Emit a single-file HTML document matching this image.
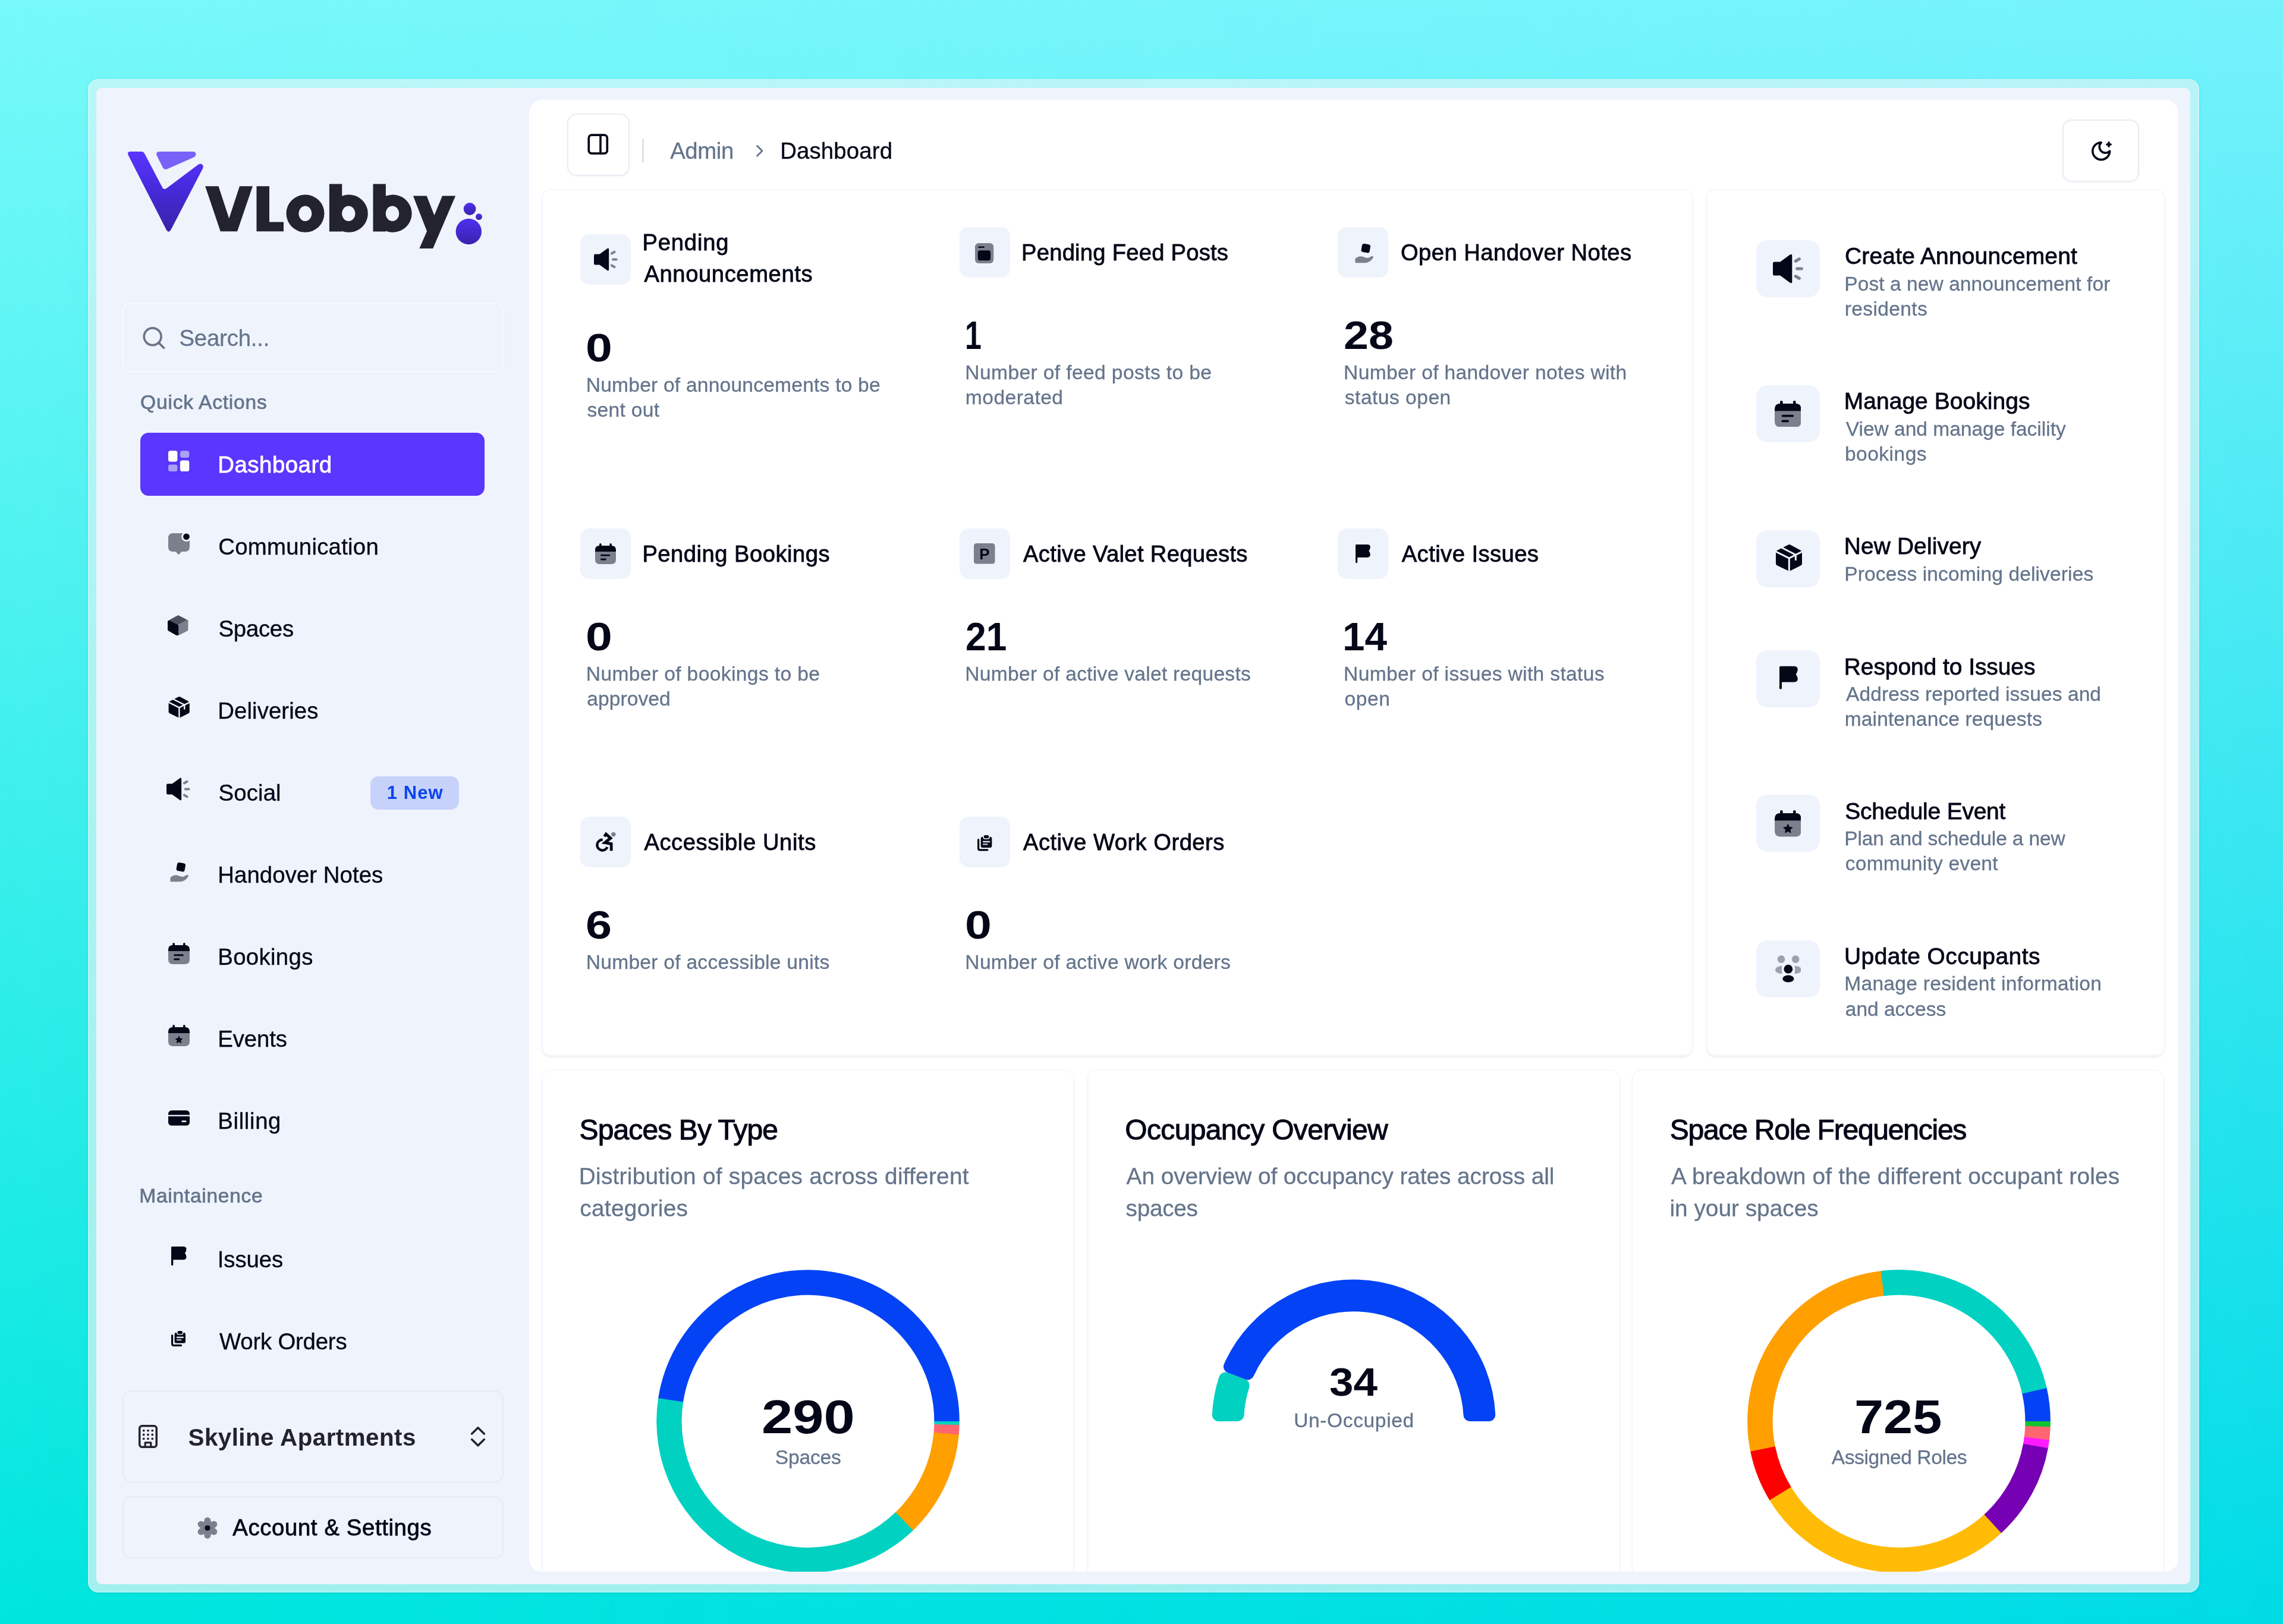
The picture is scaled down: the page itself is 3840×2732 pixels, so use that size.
<!DOCTYPE html>
<html lang="en"><head><meta charset="utf-8"><title>VLobby Dashboard</title><style>html,body{margin:0;padding:0}body{width:3840px;height:2732px;position:relative;overflow:hidden;font-family:"Liberation Sans",sans-serif;background:linear-gradient(to bottom,#78f9fa 0%,#00e6de 100%);}.a{position:absolute;display:block}.t{position:absolute;white-space:nowrap;display:block;font-family:"Liberation Sans",sans-serif;}</style></head><body><div id="root" style="position:absolute;left:0;top:0;width:3840px;height:2732px;will-change:transform;"><div class="a" style="left:0;top:0;width:3840px;height:2732px;background:linear-gradient(to bottom,#75f2fc,#00dbe6);-webkit-mask-image:linear-gradient(to right,rgba(0,0,0,0),#000);mask-image:linear-gradient(to right,rgba(0,0,0,0),#000);"></div><div class="a" style="left:148.00px;top:133.30px;width:3550.70px;height:2545.30px;background:linear-gradient(to bottom,rgba(255,246,247,0.50),rgba(255,247,247,0.63));border-radius:17px;box-shadow:inset 0 0 0 1.5px rgba(255,255,255,0.28),0 1px 4px rgba(0,90,100,0.16);"></div>
<div class="a" style="left:162.00px;top:147.60px;width:3522.40px;height:2517.20px;background:#eff3fc;border-radius:9px;"></div>
<svg class="a" style="left:0.00px;top:0.00px;" width="900.00" height="460.00" viewBox="0 0 900 460"><defs><linearGradient id="lg1" x1="0" y1="0" x2="0" y2="1"><stop offset="0" stop-color="#5a35ff"/><stop offset="0.45" stop-color="#472adc"/><stop offset="1" stop-color="#3a22a8"/></linearGradient><linearGradient id="lg2" x1="0" y1="0" x2="0" y2="1"><stop offset="0" stop-color="#4e30f0"/><stop offset="1" stop-color="#3a22ac"/></linearGradient></defs><path d="M219.4,255 H237.6 Q241.4,255 243.2,258.4 L272.6,314.4 Q275.6,320.2 280.6,316.6 L333.2,277 Q337.6,273.8 340.6,277.2 Q342.8,279.8 341,283.4 L287.6,386.2 Q283.6,393.2 279.6,386.2 L216.2,262 Q212.8,255 219.4,255Z" fill="url(#lg1)"/><path d="M268.6,255 H323.6 Q329.6,255 329.6,259.8 Q329.4,262.8 326.2,264.4 L281.4,284.2 Q276.2,286.4 273.6,281.4 L263.8,261.8 Q261,255.2 268.6,255Z" fill="#7661f9"/><g fill="#22232f"><path d="M345.2,313.3 H367.5 L385.3,367.5 L403,313.3 H425 L399.1,389.2 H370.8Z"/><path d="M431.5,313.3 H453 V373.5 H477 V389.2 H431.5Z"/><path fill-rule="evenodd" d="M481.5,359.2 a32,31.6 0 1 0 64,0 a32,31.6 0 1 0 -64,0Z M502.5,359.3 a10.9,12.8 0 1 1 21.8,0 a10.9,12.8 0 1 1 -21.8,0Z"/><path fill-rule="evenodd" d="M553.9,309.4 H575.3 V329.7 A32,31.6 0 1 1 575.3,388.7 V389.4 H553.9Z M575.2,359.3 a11.1,12.8 0 1 0 22.2,0 a11.1,12.8 0 1 0 -22.2,0Z"/><path fill-rule="evenodd" d="M627.5,309.4 H648.9 V329.8 A32,31.6 0 1 1 648.9,388.6 V389.4 H627.5Z M648.8,359.3 a11.2,12.8 0 1 0 22.4,0 a11.2,12.8 0 1 0 -22.4,0Z"/><path d="M694.9,329.4 H717.7 L730.5,362.3 L744,329.4 H766.2 L728.2,418.1 H705.4 L718.1,389Z"/></g><circle cx="788.3" cy="389.5" r="21.7" fill="url(#lg2)"/><circle cx="790.1" cy="351.5" r="10.4" fill="url(#lg2)"/><circle cx="805.5" cy="364.6" r="5.4" fill="url(#lg2)"/></svg>
<div class="a" style="left:205.30px;top:508.90px;width:642.10px;height:118.60px;border:2.4px solid rgba(255,255,255,0.55);border-radius:14px;box-sizing:border-box;box-shadow:0 1px 3px rgba(30,50,90,0.04);"></div>
<svg class="a" style="left:236.00px;top:545.00px;" width="48.00" height="48.00" viewBox="0 0 48 48"><circle cx="20.7" cy="21.2" r="14.4" fill="none" stroke="#6b7486" stroke-width="3.7"/><path d="M31.2,31.9 L39.6,40.2" stroke="#6b7486" stroke-width="3.7" stroke-linecap="round"/></svg>
<span class="t" style="left:301.45px;top:550.00px;font-size:38.4px;line-height:38.4px;color:#64748b;letter-spacing:-0.219px;-webkit-text-stroke:0.3px #64748b;">Search...</span>
<span class="t" style="left:236.10px;top:660.00px;font-size:33.6px;line-height:33.6px;color:#64748b;letter-spacing:0.763px;-webkit-text-stroke:0.7px #64748b;">Quick Actions</span>
<div class="a" style="left:235.80px;top:727.90px;width:579.20px;height:106.40px;background:#5a36ff;border-radius:14px;"></div>
<svg class="a" style="left:283.00px;top:758.30px;" width="36.00" height="36.00" viewBox="0 0 36 36"><rect x="0" y="0.3" width="15.4" height="18.4" rx="3.6" fill="#fff"/><rect x="19.9" y="0.3" width="15.4" height="11.6" rx="3.6" fill="#a9a0fa"/><rect x="0" y="23.4" width="15.4" height="11.6" rx="3.6" fill="#a9a0fa"/><rect x="19.9" y="16.6" width="15.4" height="18.4" rx="3.6" fill="#fff"/></svg>
<span class="t" style="left:366.30px;top:763.00px;font-size:38.4px;line-height:38.4px;color:#ffffff;letter-spacing:0.500px;-webkit-text-stroke:0.8px #ffffff;">Dashboard</span>
<span class="t" style="left:367.30px;top:901.00px;font-size:38.4px;line-height:38.4px;color:#030717;letter-spacing:0.233px;-webkit-text-stroke:0.35px #030717;">Communication</span>
<span class="t" style="left:367.55px;top:1039.00px;font-size:38.4px;line-height:38.4px;color:#030717;letter-spacing:-0.300px;-webkit-text-stroke:0.35px #030717;">Spaces</span>
<span class="t" style="left:366.30px;top:1177.00px;font-size:38.4px;line-height:38.4px;color:#030717;letter-spacing:0.061px;-webkit-text-stroke:0.35px #030717;">Deliveries</span>
<span class="t" style="left:367.55px;top:1315.00px;font-size:38.4px;line-height:38.4px;color:#030717;letter-spacing:0.100px;-webkit-text-stroke:0.35px #030717;">Social</span>
<span class="t" style="left:366.30px;top:1453.00px;font-size:38.4px;line-height:38.4px;color:#030717;letter-spacing:0.046px;-webkit-text-stroke:0.35px #030717;">Handover Notes</span>
<span class="t" style="left:366.30px;top:1591.00px;font-size:38.4px;line-height:38.4px;color:#030717;letter-spacing:0.307px;-webkit-text-stroke:0.35px #030717;">Bookings</span>
<span class="t" style="left:366.30px;top:1729.00px;font-size:38.4px;line-height:38.4px;color:#030717;letter-spacing:-0.160px;-webkit-text-stroke:0.35px #030717;">Events</span>
<span class="t" style="left:366.30px;top:1867.00px;font-size:38.4px;line-height:38.4px;color:#030717;letter-spacing:0.625px;-webkit-text-stroke:0.35px #030717;">Billing</span>
<svg class="a" style="left:282.60px;top:896.50px;" width="36.00" height="36.50" viewBox="0 0 36 36.5"><path d="M8,0 H28 Q36,0 36,8 V23 Q36,31 28,31 H22.5 L18.7,35.3 Q17.5,36.4 16.3,35.3 L12.5,31 H8 Q0,31 0,23 V8 Q0,0 8,0Z" fill="#7c808d"/><circle cx="30.5" cy="5.8" r="8.3" fill="#eff3fc"/><circle cx="30.5" cy="5.8" r="5.4" fill="#030717"/></svg>
<svg class="a" style="left:282.40px;top:1035.40px;" width="34.60" height="34.40" viewBox="0 0 34.4 34.2"><g stroke-linejoin="round" stroke-width="5"><polygon points="17.7,2.6 31.8,10.2 16.6,17.4 2.5,10.8" fill="#4c4f5d" stroke="#4c4f5d"/><polygon points="31.8,10.9 31.8,23.9 17.6,31.4 17.6,18.4" fill="#7c808d" stroke="#7c808d"/><polygon points="2.5,11.4 15.6,18.2 15.6,31.4 2.5,23.9" fill="#030717" stroke="#030717"/></g></svg>
<svg class="a" style="left:282.60px;top:1172.20px;" width="36.00" height="36.00" viewBox="0 0 36 36"><polygon points="18.6,3 32.8,10.6 32.8,25.4 18.6,32.6 3.6,25.4 3.6,10.6" fill="#030717" stroke="#030717" stroke-width="6" stroke-linejoin="round"/><g stroke="#eff3fc" stroke-width="2.4" fill="none" stroke-linecap="butt"><path d="M0.5,9.4 L18.4,18.4 L36,9.4"/><path d="M18.4,18.4 V36"/><path d="M8.6,4.2 L27.2,13.8 V21.4"/></g></svg>
<svg class="a" style="left:279.70px;top:1308.40px;overflow:visible;" width="40.00" height="39.00" viewBox="0 0 40 39"><path d="M2.2,10.5 H9.6 L22.3,1.2 Q25.2,-0.6 25.2,3 V36 Q25.2,39.6 22.3,37.8 L9.6,28.5 H2.2 Q0,28.5 0,26.3 V12.7 Q0,10.5 2.2,10.5Z" fill="#030717"/><path d="M29.8,9.6 L34.6,6.8 M31.8,19.5 H37.6 M29.8,29.4 L34.6,32.2" stroke="#7c808d" stroke-width="4" stroke-linecap="round" fill="none"/></svg>
<svg class="a" style="left:282.60px;top:1451.00px;" width="36.00" height="36.00" viewBox="0 0 36 36"><rect x="14.2" y="0.6" width="14.2" height="14.2" rx="3.6" transform="rotate(10 21.3 7.7)" fill="#030717"/><path d="M3.5,32.3 V25.2 Q8,20.6 14,21.2 L21.5,23.6 Q24.8,24.6 27.4,23 L30.8,21 Q34.6,19.8 33.6,23.6 Q29,31.6 20,32.3 Z" fill="#7c808d"/></svg>
<svg class="a" style="left:282.50px;top:1586.40px;" width="36.00" height="36.00" viewBox="0 0 36 36"><rect x="7.3" y="0" width="3.7" height="9" rx="1.85" fill="#030717"/><rect x="25" y="0" width="3.7" height="9" rx="1.85" fill="#030717"/><path d="M0,14.4 V11.5 Q0,4 7.5,4 H28.5 Q36,4 36,11.5 V14.4Z" fill="#030717"/><path d="M0,14.4 H36 V28 Q36,36 28,36 H8 Q0,36 0,28Z" fill="#7c808d"/><rect x="9.3" y="19.2" width="16.6" height="3" rx="1.5" fill="#030717"/><rect x="9.3" y="26.3" width="10" height="3" rx="1.5" fill="#030717"/></svg>
<svg class="a" style="left:282.50px;top:1724.30px;" width="36.00" height="36.00" viewBox="0 0 36 36"><rect x="7.3" y="0" width="3.7" height="9" rx="1.85" fill="#030717"/><rect x="25" y="0" width="3.7" height="9" rx="1.85" fill="#030717"/><path d="M0,14.4 V11.5 Q0,4 7.5,4 H28.5 Q36,4 36,11.5 V14.4Z" fill="#030717"/><path d="M0,14.4 H36 V28 Q36,36 28,36 H8 Q0,36 0,28Z" fill="#7c808d"/><polygon points="18.00,19.20 19.70,23.05 23.90,23.48 20.76,26.30 21.64,30.42 18.00,28.30 14.36,30.42 15.24,26.30 12.10,23.48 16.30,23.05" fill="#030717" stroke="#030717" stroke-width="1" stroke-linejoin="round"/></svg>
<svg class="a" style="left:282.60px;top:1867.60px;" width="36.00" height="26.00" viewBox="0 0 36 26"><rect x="0" y="0" width="36" height="25.6" rx="5.6" fill="#030717"/><rect x="0" y="7.6" width="36" height="2.3" fill="#eff3fc"/><rect x="22.5" y="16.9" width="8" height="2.9" rx="1.45" fill="#eff3fc"/></svg>
<div class="a" style="left:623.30px;top:1306.00px;width:148.90px;height:56.10px;background:#c7d2fb;border-radius:14px;"></div>
<span class="t" style="left:650.80px;top:1318.00px;font-size:31px;line-height:31px;color:#0c44ee;font-weight:700;letter-spacing:1.062px;">1 New</span>
<span class="t" style="left:234.25px;top:1995.00px;font-size:33.6px;line-height:33.6px;color:#64748b;letter-spacing:0.705px;-webkit-text-stroke:0.7px #64748b;">Maintainence</span>
<span class="t" style="left:365.80px;top:2100.00px;font-size:38.4px;line-height:38.4px;color:#030717;letter-spacing:-0.100px;-webkit-text-stroke:0.35px #030717;">Issues</span>
<span class="t" style="left:369.05px;top:2238.00px;font-size:38.4px;line-height:38.4px;color:#030717;letter-spacing:-0.230px;-webkit-text-stroke:0.35px #030717;">Work Orders</span>
<svg class="a" style="left:287.80px;top:2096.60px;" width="26.00" height="32.00" viewBox="0 0 26 32"><path d="M0,1.4 Q0,0 1.4,0 H20.8 Q26,0.2 25.4,5.4 Q25,8.6 22.9,11.1 Q25,13.6 25.4,16.8 Q26,22 20.8,22.2 H3.3 V30.4 Q3.3,32 1.65,32 Q0,32 0,30.4Z" fill="#030717"/></svg>
<svg class="a" style="left:287.80px;top:2239.30px;" width="24.00" height="26.00" viewBox="0 0 24 26"><path d="M1.6,7.6 V21.8 Q1.6,24.4 4.2,24.4 H16.6" fill="none" stroke="#030717" stroke-width="3.2" stroke-linecap="round"/><rect x="5.6" y="2.8" width="18.4" height="17.8" rx="3.2" fill="#030717"/><rect x="9.2" y="-1" width="11.2" height="7.6" rx="3" fill="#eff3fc"/><rect x="10.6" y="0" width="8.4" height="5.2" rx="2.2" fill="#030717"/><rect x="9" y="9.6" width="11.8" height="2.4" fill="#dde1ea"/><rect x="9" y="13.9" width="8.2" height="2.4" fill="#b9bfcc"/></svg>
<div class="a" style="left:205.50px;top:2339.40px;width:641.90px;height:154.90px;border:2px solid #e6eaf2;border-radius:15px;box-sizing:border-box;"></div>
<div class="a" style="left:205.50px;top:2516.60px;width:641.90px;height:105.20px;border:2px solid #e6eaf2;border-radius:15px;box-sizing:border-box;"></div>
<svg class="a" style="left:232.60px;top:2396.90px;" width="32.00" height="39.00" viewBox="0 0 32 39"><rect x="1.75" y="1.75" width="28.5" height="35.5" rx="4" fill="none" stroke="#22232f" stroke-width="3.5"/><rect x="6.999999999999999" y="7.8999999999999995" width="3.4" height="3.4" rx="0.6" fill="#22232f"/><rect x="6.999999999999999" y="14.8" width="3.4" height="3.4" rx="0.6" fill="#22232f"/><rect x="6.999999999999999" y="21.7" width="3.4" height="3.4" rx="0.6" fill="#22232f"/><rect x="14.3" y="7.8999999999999995" width="3.4" height="3.4" rx="0.6" fill="#22232f"/><rect x="14.3" y="14.8" width="3.4" height="3.4" rx="0.6" fill="#22232f"/><rect x="14.3" y="21.7" width="3.4" height="3.4" rx="0.6" fill="#22232f"/><rect x="21.6" y="7.8999999999999995" width="3.4" height="3.4" rx="0.6" fill="#22232f"/><rect x="21.6" y="14.8" width="3.4" height="3.4" rx="0.6" fill="#22232f"/><rect x="21.6" y="21.7" width="3.4" height="3.4" rx="0.6" fill="#22232f"/><path d="M11.2,37 V29.8 H20.8 V37" fill="none" stroke="#22232f" stroke-width="3.2" stroke-linejoin="round"/></svg>
<span class="t" style="left:316.55px;top:2398.00px;font-size:40.4px;line-height:40.4px;color:#22232f;font-weight:700;letter-spacing:0.426px;">Skyline Apartments</span>
<svg class="a" style="left:788.00px;top:2396.00px;" width="32.00" height="42.00" viewBox="0 0 32 42"><path d="M5.6,16 L16,5.8 L26.4,16 M5.6,25.6 L16,35.8 L26.4,25.6" fill="none" stroke="#22232f" stroke-width="3.5" stroke-linecap="round" stroke-linejoin="round"/></svg>
<svg class="a" style="left:330.60px;top:2551.50px;" width="36.00" height="37.00" viewBox="0 0 36 37"><circle cx="18" cy="18.5" r="12.2" fill="#7c808d"/><circle cx="18.00" cy="6.10" r="5.6" fill="#7c808d"/><circle cx="7.26" cy="12.30" r="5.6" fill="#7c808d"/><circle cx="7.26" cy="24.70" r="5.6" fill="#7c808d"/><circle cx="18.00" cy="30.90" r="5.6" fill="#7c808d"/><circle cx="28.74" cy="24.70" r="5.6" fill="#7c808d"/><circle cx="28.74" cy="12.30" r="5.6" fill="#7c808d"/><circle cx="18" cy="18.5" r="4.6" fill="#030717"/></svg>
<span class="t" style="left:391.30px;top:2551.00px;font-size:38.4px;line-height:38.4px;color:#030717;letter-spacing:0.588px;-webkit-text-stroke:0.8px #030717;">Account &amp; Settings</span>
<div class="a" id="panel" style="left:890px;top:167.5px;width:2774px;height:2476.5px;background:#fff;border-radius:22px;overflow:hidden;">
<div class="a" style="left:21.00px;top:150.00px;width:1935.50px;height:1458.80px;border:2px solid #f7f8fb;border-radius:15px;box-sizing:border-box;background:#fff;box-shadow:0 2.2px 3.8px rgba(0,0,0,0.062);"></div>
<div class="a" style="left:1979.50px;top:150.00px;width:771.00px;height:1458.10px;border:2px solid #f7f8fb;border-radius:15px;box-sizing:border-box;background:#fff;box-shadow:0 2.2px 3.8px rgba(0,0,0,0.062);"></div>
<div class="a" style="left:21.30px;top:1631.30px;width:895.30px;height:901.20px;border:2px solid #f7f8fb;border-radius:15px;box-sizing:border-box;background:#fff;box-shadow:0 2.2px 3.8px rgba(0,0,0,0.062);"></div>
<div class="a" style="left:938.50px;top:1631.30px;width:896.50px;height:901.20px;border:2px solid #f7f8fb;border-radius:15px;box-sizing:border-box;background:#fff;box-shadow:0 2.2px 3.8px rgba(0,0,0,0.062);"></div>
<div class="a" style="left:1855.00px;top:1631.30px;width:895.30px;height:901.20px;border:2px solid #f7f8fb;border-radius:15px;box-sizing:border-box;background:#fff;box-shadow:0 2.2px 3.8px rgba(0,0,0,0.062);"></div>
</div>
<div class="a" style="left:954.40px;top:191.00px;width:105.00px;height:104.80px;border:2px solid #e9ecf3;border-radius:16px;box-sizing:border-box;box-shadow:0 1px 3px rgba(15,23,42,0.04);"></div>
<svg class="a" style="left:986.00px;top:223.00px;" width="40.00" height="40.00" viewBox="0 0 40 40"><rect x="4.3" y="4.2" width="31" height="31" rx="5" fill="none" stroke="#030717" stroke-width="3.7"/><path d="M24,4.2 V35.2" stroke="#030717" stroke-width="3.6"/></svg>
<div class="a" style="left:1080.20px;top:233.00px;width:2.80px;height:40.80px;background:#dde2eb;"></div>
<span class="t" style="left:1127.20px;top:235.00px;font-size:38.4px;line-height:38.4px;color:#64748b;letter-spacing:-0.438px;-webkit-text-stroke:0.3px #64748b;">Admin</span>
<svg class="a" style="left:1261.20px;top:236.70px;" width="33.60" height="33.60" viewBox="0 0 24 24"><path d="m9 18 6-6-6-6" fill="none" stroke="#64748b" stroke-width="2" stroke-linecap="round" stroke-linejoin="round"/></svg>
<span class="t" style="left:1312.20px;top:235.00px;font-size:38.4px;line-height:38.4px;color:#030717;letter-spacing:0.125px;-webkit-text-stroke:0.35px #030717;">Dashboard</span>
<div class="a" style="left:3469.40px;top:201.10px;width:129.10px;height:105.20px;border:2px solid #e8ecf3;border-radius:15px;box-sizing:border-box;box-shadow:0 1px 3px rgba(15,23,42,0.04);"></div>
<svg class="a" style="left:3514.80px;top:234.60px;" width="38.40" height="38.40" viewBox="0 0 24 24"><g fill="none" stroke="#030717" stroke-width="2.25" stroke-linecap="round" stroke-linejoin="round"><path d="M12 3a6 6 0 0 0 9 9 9 9 0 1 1-9-9Z"/><path d="M20 3v4"/><path d="M22 5h-4"/></g></svg>
<div class="a" style="left:976.00px;top:393.60px;width:85.00px;height:85.20px;background:#eff3fc;border-radius:15px;"></div>
<span class="t" style="left:1080.40px;top:389.00px;font-size:38.2px;line-height:38.2px;color:#030717;letter-spacing:0.842px;-webkit-text-stroke:0.8px #030717;">Pending</span>
<span class="t" style="left:1083.40px;top:442.00px;font-size:38.2px;line-height:38.2px;color:#030717;letter-spacing:0.600px;-webkit-text-stroke:0.8px #030717;">Announcements</span>
<span class="t" style="left:985.39px;top:551.00px;font-size:67px;line-height:67px;color:#030717;font-weight:700;transform:scaleX(1.203125);transform-origin:0 0;">0</span>
<span class="t" style="left:985.75px;top:631.00px;font-size:33.6px;line-height:33.6px;color:#64748b;letter-spacing:0.209px;-webkit-text-stroke:0.3px #64748b;">Number of announcements to be</span>
<span class="t" style="left:987.50px;top:673.00px;font-size:33.6px;line-height:33.6px;color:#64748b;letter-spacing:0.314px;-webkit-text-stroke:0.3px #64748b;">sent out</span>
<div class="a" style="left:1613.60px;top:382.00px;width:85.00px;height:85.20px;background:#eff3fc;border-radius:15px;"></div>
<span class="t" style="left:1718.00px;top:406.00px;font-size:38.2px;line-height:38.2px;color:#030717;letter-spacing:0.235px;-webkit-text-stroke:0.8px #030717;">Pending Feed Posts</span>
<span class="t" style="left:1622.82px;top:530.00px;font-size:67px;line-height:67px;color:#030717;font-weight:700;transform:scaleX(0.7487999999999999);transform-origin:0 0;">1</span>
<span class="t" style="left:1623.35px;top:610.00px;font-size:33.6px;line-height:33.6px;color:#64748b;letter-spacing:0.384px;-webkit-text-stroke:0.3px #64748b;">Number of feed posts to be</span>
<span class="t" style="left:1623.85px;top:652.00px;font-size:33.6px;line-height:33.6px;color:#64748b;letter-spacing:0.456px;-webkit-text-stroke:0.3px #64748b;">moderated</span>
<div class="a" style="left:2250.30px;top:382.00px;width:85.00px;height:85.20px;background:#eff3fc;border-radius:15px;"></div>
<span class="t" style="left:2355.95px;top:406.00px;font-size:38.2px;line-height:38.2px;color:#030717;letter-spacing:0.456px;-webkit-text-stroke:0.8px #030717;">Open Handover Notes</span>
<span class="t" style="left:2260.17px;top:530.00px;font-size:67px;line-height:67px;color:#030717;font-weight:700;transform:scaleX(1.1245551601423487);transform-origin:0 0;">28</span>
<span class="t" style="left:2260.05px;top:610.00px;font-size:33.6px;line-height:33.6px;color:#64748b;letter-spacing:0.341px;-webkit-text-stroke:0.3px #64748b;">Number of handover notes with</span>
<span class="t" style="left:2261.80px;top:652.00px;font-size:33.6px;line-height:33.6px;color:#64748b;letter-spacing:0.480px;-webkit-text-stroke:0.3px #64748b;">status open</span>
<div class="a" style="left:976.00px;top:889.00px;width:85.00px;height:85.20px;background:#eff3fc;border-radius:15px;"></div>
<span class="t" style="left:1080.40px;top:913.00px;font-size:38.2px;line-height:38.2px;color:#030717;letter-spacing:0.493px;-webkit-text-stroke:0.8px #030717;">Pending Bookings</span>
<span class="t" style="left:985.39px;top:1037.00px;font-size:67px;line-height:67px;color:#030717;font-weight:700;transform:scaleX(1.203125);transform-origin:0 0;">0</span>
<span class="t" style="left:985.75px;top:1117.00px;font-size:33.6px;line-height:33.6px;color:#64748b;letter-spacing:0.378px;-webkit-text-stroke:0.3px #64748b;">Number of bookings to be</span>
<span class="t" style="left:987.25px;top:1159.00px;font-size:33.6px;line-height:33.6px;color:#64748b;letter-spacing:0.064px;-webkit-text-stroke:0.3px #64748b;">approved</span>
<div class="a" style="left:1613.60px;top:889.00px;width:85.00px;height:85.20px;background:#eff3fc;border-radius:15px;"></div>
<span class="t" style="left:1721.00px;top:913.00px;font-size:38.2px;line-height:38.2px;color:#030717;letter-spacing:0.335px;-webkit-text-stroke:0.8px #030717;">Active Valet Requests</span>
<span class="t" style="left:1623.91px;top:1037.00px;font-size:67px;line-height:67px;color:#030717;font-weight:700;transform:scaleX(0.9304964539007091);transform-origin:0 0;">21</span>
<span class="t" style="left:1623.35px;top:1117.00px;font-size:33.6px;line-height:33.6px;color:#64748b;letter-spacing:0.277px;-webkit-text-stroke:0.3px #64748b;">Number of active valet requests</span>
<div class="a" style="left:2250.30px;top:889.00px;width:85.00px;height:85.20px;background:#eff3fc;border-radius:15px;"></div>
<span class="t" style="left:2357.70px;top:913.00px;font-size:38.2px;line-height:38.2px;color:#030717;letter-spacing:0.442px;-webkit-text-stroke:0.8px #030717;">Active Issues</span>
<span class="t" style="left:2258.42px;top:1037.00px;font-size:67px;line-height:67px;color:#030717;font-weight:700;transform:scaleX(1.0071428571428571);transform-origin:0 0;">14</span>
<span class="t" style="left:2260.05px;top:1117.00px;font-size:33.6px;line-height:33.6px;color:#64748b;letter-spacing:0.346px;-webkit-text-stroke:0.3px #64748b;">Number of issues with status</span>
<span class="t" style="left:2261.55px;top:1159.00px;font-size:33.6px;line-height:33.6px;color:#64748b;letter-spacing:0.583px;-webkit-text-stroke:0.3px #64748b;">open</span>
<div class="a" style="left:976.00px;top:1374.30px;width:85.00px;height:85.20px;background:#eff3fc;border-radius:15px;"></div>
<span class="t" style="left:1083.40px;top:1398.00px;font-size:38.2px;line-height:38.2px;color:#030717;letter-spacing:0.583px;-webkit-text-stroke:0.8px #030717;">Accessible Units</span>
<span class="t" style="left:985.45px;top:1522.00px;font-size:67px;line-height:67px;color:#030717;font-weight:700;transform:scaleX(1.1815384615384614);transform-origin:0 0;">6</span>
<span class="t" style="left:985.75px;top:1602.00px;font-size:33.6px;line-height:33.6px;color:#64748b;letter-spacing:0.258px;-webkit-text-stroke:0.3px #64748b;">Number of accessible units</span>
<div class="a" style="left:1613.60px;top:1374.30px;width:85.00px;height:85.20px;background:#eff3fc;border-radius:15px;"></div>
<span class="t" style="left:1721.00px;top:1398.00px;font-size:38.2px;line-height:38.2px;color:#030717;letter-spacing:0.471px;-webkit-text-stroke:0.8px #030717;">Active Work Orders</span>
<span class="t" style="left:1622.99px;top:1522.00px;font-size:67px;line-height:67px;color:#030717;font-weight:700;transform:scaleX(1.203125);transform-origin:0 0;">0</span>
<span class="t" style="left:1623.35px;top:1602.00px;font-size:33.6px;line-height:33.6px;color:#64748b;letter-spacing:0.296px;-webkit-text-stroke:0.3px #64748b;">Number of active work orders</span>
<svg class="a" style="left:998.50px;top:416.70px;overflow:visible;" width="40.00" height="39.00" viewBox="0 0 40 39"><path d="M2.2,10.5 H9.6 L22.3,1.2 Q25.2,-0.6 25.2,3 V36 Q25.2,39.6 22.3,37.8 L9.6,28.5 H2.2 Q0,28.5 0,26.3 V12.7 Q0,10.5 2.2,10.5Z" fill="#030717"/><path d="M29.8,9.6 L34.6,6.8 M31.8,19.5 H37.6 M29.8,29.4 L34.6,32.2" stroke="#7c808d" stroke-width="4" stroke-linecap="round" fill="none"/></svg>
<svg class="a" style="left:1640.20px;top:407.60px;overflow:visible;" width="31.20" height="35.90" viewBox="0 0 33 36"><rect x="0" y="0" width="33" height="36" rx="6.5" fill="#7c808d"/><rect x="5" y="13.1" width="22.6" height="18" rx="4" fill="#030717"/><rect x="5.6" y="5.8" width="11.2" height="2.8" rx="1.4" fill="#030717"/></svg>
<svg class="a" style="left:2276.20px;top:410.40px;" width="36.00" height="36.00" viewBox="0 0 36 36"><rect x="14.2" y="0.6" width="14.2" height="14.2" rx="3.6" transform="rotate(10 21.3 7.7)" fill="#030717"/><path d="M3.5,32.3 V25.2 Q8,20.6 14,21.2 L21.5,23.6 Q24.8,24.6 27.4,23 L30.8,21 Q34.6,19.8 33.6,23.6 Q29,31.6 20,32.3 Z" fill="#7c808d"/></svg>
<svg class="a" style="left:1001.00px;top:914.10px;" width="35.00" height="35.00" viewBox="0 0 36 36"><rect x="7.3" y="0" width="3.7" height="9" rx="1.85" fill="#030717"/><rect x="25" y="0" width="3.7" height="9" rx="1.85" fill="#030717"/><path d="M0,14.4 V11.5 Q0,4 7.5,4 H28.5 Q36,4 36,11.5 V14.4Z" fill="#030717"/><path d="M0,14.4 H36 V28 Q36,36 28,36 H8 Q0,36 0,28Z" fill="#7c808d"/><rect x="9.3" y="19.2" width="16.6" height="3" rx="1.5" fill="#030717"/><rect x="9.3" y="26.3" width="10" height="3" rx="1.5" fill="#030717"/></svg>
<svg class="a" style="left:1638.35px;top:914.30px;" width="35.50" height="34.60" viewBox="0 0 35.5 34.6"><rect x="0" y="0" width="35.5" height="34.6" rx="4.4" fill="#7c808d"/><text x="17.9" y="26.6" font-family="Liberation Sans, sans-serif" font-weight="700" font-size="26" text-anchor="middle" fill="#030717">P</text></svg>
<svg class="a" style="left:2280.10px;top:916.00px;" width="25.40" height="31.20" viewBox="0 0 26 32"><path d="M0,1.4 Q0,0 1.4,0 H20.8 Q26,0.2 25.4,5.4 Q25,8.6 22.9,11.1 Q25,13.6 25.4,16.8 Q26,22 20.8,22.2 H3.3 V30.4 Q3.3,32 1.65,32 Q0,32 0,30.4Z" fill="#030717"/></svg>
<svg class="a" style="left:1002.00px;top:1400.10px;overflow:visible;" width="34.00" height="33.00" viewBox="0 0 34 33"><circle cx="29.9" cy="3.6" r="3.7" fill="#7c808d"/><g fill="none" stroke="#030717" stroke-linecap="butt" stroke-linejoin="miter"><path d="M14.6,7.2 L17.4,3.2 L25,10 L15.2,17.6 L26.2,19.6 V31.2" stroke-width="4.8" stroke-miterlimit="6"/><path d="M11.7,12.7 A8.9,8.9 0 1 0 19.5,25.0" stroke-width="4.3"/></g></svg>
<svg class="a" style="left:1643.90px;top:1404.90px;overflow:visible;" width="24.40" height="26.40" viewBox="0 0 24 26"><path d="M1.6,7.6 V21.8 Q1.6,24.4 4.2,24.4 H16.6" fill="none" stroke="#030717" stroke-width="3.2" stroke-linecap="round"/><rect x="5.6" y="2.8" width="18.4" height="17.8" rx="3.2" fill="#030717"/><rect x="9.2" y="-1" width="11.2" height="7.6" rx="3" fill="#eff3fc"/><rect x="10.6" y="0" width="8.4" height="5.2" rx="2.2" fill="#030717"/><rect x="9" y="9.6" width="11.8" height="2.4" fill="#dde1ea"/><rect x="9" y="13.9" width="8.2" height="2.4" fill="#b9bfcc"/></svg>
<div class="a" style="left:2954.40px;top:403.80px;width:106.20px;height:96.00px;background:#eff3fc;border-radius:19px;"></div>
<span class="t" style="left:3103.00px;top:412.00px;font-size:38.9px;line-height:38.9px;color:#030717;letter-spacing:0.214px;-webkit-text-stroke:0.8px #030717;">Create Announcement</span>
<span class="t" style="left:3102.25px;top:461.00px;font-size:33.5px;line-height:33.5px;color:#64748b;letter-spacing:0.077px;-webkit-text-stroke:0.3px #64748b;">Post a new announcement for</span>
<span class="t" style="left:3102.75px;top:503.00px;font-size:33.5px;line-height:33.5px;color:#64748b;letter-spacing:0.387px;-webkit-text-stroke:0.3px #64748b;">residents</span>
<div class="a" style="left:2954.40px;top:647.80px;width:106.20px;height:96.00px;background:#eff3fc;border-radius:19px;"></div>
<span class="t" style="left:3101.75px;top:656.00px;font-size:38.9px;line-height:38.9px;color:#030717;letter-spacing:0.089px;-webkit-text-stroke:0.8px #030717;">Manage Bookings</span>
<span class="t" style="left:3104.75px;top:705.00px;font-size:33.5px;line-height:33.5px;color:#64748b;-webkit-text-stroke:0.3px #64748b;">View and manage facility</span>
<span class="t" style="left:3103.00px;top:747.00px;font-size:33.5px;line-height:33.5px;color:#64748b;letter-spacing:0.493px;-webkit-text-stroke:0.3px #64748b;">bookings</span>
<div class="a" style="left:2954.40px;top:892.00px;width:106.20px;height:96.00px;background:#eff3fc;border-radius:19px;"></div>
<span class="t" style="left:3101.75px;top:900.00px;font-size:38.9px;line-height:38.9px;color:#030717;letter-spacing:0.136px;-webkit-text-stroke:0.8px #030717;">New Delivery</span>
<span class="t" style="left:3102.25px;top:949.00px;font-size:33.5px;line-height:33.5px;color:#64748b;letter-spacing:0.144px;-webkit-text-stroke:0.3px #64748b;">Process incoming deliveries</span>
<div class="a" style="left:2954.40px;top:1094.40px;width:106.20px;height:96.00px;background:#eff3fc;border-radius:19px;"></div>
<span class="t" style="left:3101.75px;top:1103.00px;font-size:38.9px;line-height:38.9px;color:#030717;letter-spacing:-0.031px;-webkit-text-stroke:0.8px #030717;">Respond to Issues</span>
<span class="t" style="left:3105.00px;top:1151.00px;font-size:33.5px;line-height:33.5px;color:#64748b;letter-spacing:0.098px;-webkit-text-stroke:0.3px #64748b;">Address reported issues and</span>
<span class="t" style="left:3102.75px;top:1193.00px;font-size:33.5px;line-height:33.5px;color:#64748b;letter-spacing:0.134px;-webkit-text-stroke:0.3px #64748b;">maintenance requests</span>
<div class="a" style="left:2954.40px;top:1337.40px;width:106.20px;height:96.00px;background:#eff3fc;border-radius:19px;"></div>
<span class="t" style="left:3103.25px;top:1346.00px;font-size:38.9px;line-height:38.9px;color:#030717;letter-spacing:-0.177px;-webkit-text-stroke:0.8px #030717;">Schedule Event</span>
<span class="t" style="left:3102.25px;top:1394.00px;font-size:33.5px;line-height:33.5px;color:#64748b;letter-spacing:-0.134px;-webkit-text-stroke:0.3px #64748b;">Plan and schedule a new</span>
<span class="t" style="left:3103.75px;top:1436.00px;font-size:33.5px;line-height:33.5px;color:#64748b;letter-spacing:0.254px;-webkit-text-stroke:0.3px #64748b;">community event</span>
<div class="a" style="left:2954.40px;top:1581.70px;width:106.20px;height:96.00px;background:#eff3fc;border-radius:19px;"></div>
<span class="t" style="left:3102.00px;top:1590.00px;font-size:38.9px;line-height:38.9px;color:#030717;letter-spacing:0.483px;-webkit-text-stroke:0.8px #030717;">Update Occupants</span>
<span class="t" style="left:3102.25px;top:1638.00px;font-size:33.5px;line-height:33.5px;color:#64748b;letter-spacing:0.306px;-webkit-text-stroke:0.3px #64748b;">Manage resident information</span>
<span class="t" style="left:3103.75px;top:1681.00px;font-size:33.5px;line-height:33.5px;color:#64748b;-webkit-text-stroke:0.3px #64748b;">and access</span>
<svg class="a" style="left:2981.55px;top:426.80px;overflow:visible;" width="51.30" height="50.00" viewBox="0 0 40 39"><path d="M2.2,10.5 H9.6 L22.3,1.2 Q25.2,-0.6 25.2,3 V36 Q25.2,39.6 22.3,37.8 L9.6,28.5 H2.2 Q0,28.5 0,26.3 V12.7 Q0,10.5 2.2,10.5Z" fill="#030717"/><path d="M29.8,9.6 L34.6,6.8 M31.8,19.5 H37.6 M29.8,29.4 L34.6,32.2" stroke="#7c808d" stroke-width="4" stroke-linecap="round" fill="none"/></svg>
<svg class="a" style="left:2984.90px;top:673.50px;" width="44.60" height="44.60" viewBox="0 0 36 36"><rect x="7.3" y="0" width="3.7" height="9" rx="1.85" fill="#030717"/><rect x="25" y="0" width="3.7" height="9" rx="1.85" fill="#030717"/><path d="M0,14.4 V11.5 Q0,4 7.5,4 H28.5 Q36,4 36,11.5 V14.4Z" fill="#030717"/><path d="M0,14.4 H36 V28 Q36,36 28,36 H8 Q0,36 0,28Z" fill="#7c808d"/><rect x="9.3" y="19.2" width="16.6" height="3" rx="1.5" fill="#030717"/><rect x="9.3" y="26.3" width="10" height="3" rx="1.5" fill="#030717"/></svg>
<svg class="a" style="left:2985.60px;top:916.20px;" width="45.60" height="45.20" viewBox="0 0 36 36"><polygon points="18.6,3 32.8,10.6 32.8,25.4 18.6,32.6 3.6,25.4 3.6,10.6" fill="#030717" stroke="#030717" stroke-width="6" stroke-linejoin="round"/><g stroke="#eff3fc" stroke-width="2.4" fill="none" stroke-linecap="butt"><path d="M0.5,9.4 L18.4,18.4 L36,9.4"/><path d="M18.4,18.4 V36"/><path d="M8.6,4.2 L27.2,13.8 V21.4"/></g></svg>
<svg class="a" style="left:2992.80px;top:1120.30px;" width="31.40" height="40.20" viewBox="0 0 26 32"><path d="M0,1.4 Q0,0 1.4,0 H20.8 Q26,0.2 25.4,5.4 Q25,8.6 22.9,11.1 Q25,13.6 25.4,16.8 Q26,22 20.8,22.2 H3.3 V30.4 Q3.3,32 1.65,32 Q0,32 0,30.4Z" fill="#030717"/></svg>
<svg class="a" style="left:2984.90px;top:1363.10px;" width="44.60" height="44.60" viewBox="0 0 36 36"><rect x="7.3" y="0" width="3.7" height="9" rx="1.85" fill="#030717"/><rect x="25" y="0" width="3.7" height="9" rx="1.85" fill="#030717"/><path d="M0,14.4 V11.5 Q0,4 7.5,4 H28.5 Q36,4 36,11.5 V14.4Z" fill="#030717"/><path d="M0,14.4 H36 V28 Q36,36 28,36 H8 Q0,36 0,28Z" fill="#7c808d"/><polygon points="18.00,19.20 19.70,23.05 23.90,23.48 20.76,26.30 21.64,30.42 18.00,28.30 14.36,30.42 15.24,26.30 12.10,23.48 16.30,23.05" fill="#030717" stroke="#030717" stroke-width="1" stroke-linejoin="round"/></svg>
<svg class="a" style="left:2984.90px;top:1606.50px;" width="44.60" height="46.40" viewBox="0 0 48 50"><circle cx="11.8" cy="7.2" r="6.8" fill="#9da1ad"/><circle cx="37.8" cy="7.2" r="6.8" fill="#9da1ad"/><path d="M13.4,19.1 A12.3,7.2 0 0 0 13.4,33.5 Q11.8,26.3 13.4,19.1Z" fill="#9da1ad"/><path d="M36.0,19.1 A12.7,7.2 0 0 1 36.0,33.5 Q37.6,26.3 36.0,19.1Z" fill="#9da1ad"/><circle cx="24.6" cy="25" r="8" fill="#030717"/><ellipse cx="24.6" cy="42.6" rx="10.3" ry="6.5" fill="#030717"/></svg>
<span class="t" style="left:974.55px;top:1877.00px;font-size:48px;line-height:48px;color:#030717;letter-spacing:-0.885px;-webkit-text-stroke:1.05px #030717;">Spaces By Type</span>
<span class="t" style="left:973.80px;top:1960.00px;font-size:38.8px;line-height:38.8px;color:#64748b;letter-spacing:0.251px;-webkit-text-stroke:0.3px #64748b;">Distribution of spaces across different</span>
<span class="t" style="left:975.30px;top:2014.00px;font-size:38.8px;line-height:38.8px;color:#64748b;letter-spacing:0.300px;-webkit-text-stroke:0.3px #64748b;">categories</span>
<span class="t" style="left:1892.35px;top:1877.00px;font-size:48px;line-height:48px;color:#030717;letter-spacing:-0.662px;-webkit-text-stroke:1.05px #030717;">Occupancy Overview</span>
<span class="t" style="left:1894.60px;top:1960.00px;font-size:38.8px;line-height:38.8px;color:#64748b;letter-spacing:-0.065px;-webkit-text-stroke:0.3px #64748b;">An overview of occupancy rates across all</span>
<span class="t" style="left:1893.60px;top:2014.00px;font-size:38.8px;line-height:38.8px;color:#64748b;letter-spacing:-0.300px;-webkit-text-stroke:0.3px #64748b;">spaces</span>
<span class="t" style="left:2808.75px;top:1877.00px;font-size:48px;line-height:48px;color:#030717;letter-spacing:-1.240px;-webkit-text-stroke:1.05px #030717;">Space Role Frequencies</span>
<span class="t" style="left:2811.00px;top:1960.00px;font-size:38.8px;line-height:38.8px;color:#64748b;letter-spacing:0.206px;-webkit-text-stroke:0.3px #64748b;">A breakdown of the different occupant roles</span>
<span class="t" style="left:2808.50px;top:2014.00px;font-size:38.8px;line-height:38.8px;color:#64748b;-webkit-text-stroke:0.3px #64748b;">in your spaces</span>
<div class="a" style="left:1059.2px;top:2090.6px;width:600px;height:553.4px;overflow:hidden;"><svg width="600" height="600" viewBox="0 0 600 600" style="display:block"><path d="M554.80,300.53 A254.8,254.8 0 0 0 48.04,262.03 L89.97,268.35 A212.4,212.4 0 0 1 512.40,300.44 Z" fill="#0443f5"/><path d="M48.21,260.98 A254.8,254.8 0 0 0 477.60,482.70 L448.05,452.30 A212.4,212.4 0 0 1 90.11,267.47 Z" fill="#00d1c1"/><path d="M476.84,483.45 A254.8,254.8 0 0 0 553.89,321.52 L511.64,317.94 A212.4,212.4 0 0 1 447.41,452.92 Z" fill="#ff9f00"/><path d="M553.80,322.59 A254.8,254.8 0 0 0 554.75,304.99 L512.36,304.16 A212.4,212.4 0 0 1 511.56,318.83 Z" fill="#ff6670"/><path d="M554.73,306.05 A254.8,254.8 0 0 0 554.80,300.00 L512.40,300.00 A212.4,212.4 0 0 1 512.34,305.05 Z" fill="#00d1c1"/></svg></div>
<div class="a" style="left:2893.9px;top:2090.6px;width:600px;height:553.4px;overflow:hidden;"><svg width="600" height="600" viewBox="0 0 600 600" style="display:block"><path d="M554.90,300.53 A254.9,254.9 0 0 0 548.45,243.01 L507.02,252.51 A212.4,212.4 0 0 1 512.40,300.44 Z" fill="#0443f5"/><path d="M548.68,244.05 A254.9,254.9 0 0 0 268.63,47.04 L273.86,89.21 A212.4,212.4 0 0 1 507.22,253.38 Z" fill="#00d1c1"/><path d="M269.69,46.91 A254.9,254.9 0 0 0 50.41,351.78 L92.03,343.14 A212.4,212.4 0 0 1 274.74,89.11 Z" fill="#ff9f00"/><path d="M50.20,350.73 A254.9,254.9 0 0 0 82.94,433.64 L119.13,411.36 A212.4,212.4 0 0 1 91.85,342.27 Z" fill="#ff0000"/><path d="M82.38,432.73 A254.9,254.9 0 0 0 472.93,487.27 L444.10,456.05 A212.4,212.4 0 0 1 118.67,410.60 Z" fill="#ffbb06"/><path d="M472.14,487.99 A254.9,254.9 0 0 0 551.04,344.18 L509.19,336.81 A212.4,212.4 0 0 1 443.44,456.65 Z" fill="#7500b4"/><path d="M550.86,345.23 A254.9,254.9 0 0 0 553.06,330.53 L510.87,325.44 A212.4,212.4 0 0 1 509.03,337.69 Z" fill="#ff1aff"/><path d="M552.93,331.59 A254.9,254.9 0 0 0 554.76,308.36 L512.29,306.97 A212.4,212.4 0 0 1 510.76,326.33 Z" fill="#ff6670"/><path d="M554.73,309.43 A254.9,254.9 0 0 0 554.90,300.00 L512.40,300.00 A212.4,212.4 0 0 1 512.25,307.86 Z" fill="#10c230"/></svg></div>
<span class="t" style="left:1281.03px;top:2344.00px;font-size:79px;line-height:79px;color:#030717;font-weight:700;transform:scaleX(1.1904761904761905);transform-origin:0 0;">290</span>
<span class="t" style="left:1303.80px;top:2435.00px;font-size:33.6px;line-height:33.6px;color:#64748b;letter-spacing:-0.200px;-webkit-text-stroke:0.3px #64748b;">Spaces</span>
<span class="t" style="left:3119.42px;top:2344.00px;font-size:79px;line-height:79px;color:#030717;font-weight:700;transform:scaleX(1.11699604743083);transform-origin:0 0;">725</span>
<span class="t" style="left:3080.70px;top:2435.00px;font-size:33.6px;line-height:33.6px;color:#64748b;letter-spacing:-0.423px;-webkit-text-stroke:0.3px #64748b;">Assigned Roles</span>
<svg class="a" style="left:1977.20px;top:2090.60px;" width="600.00" height="340.00" viewBox="0 0 600 340"><path d="M527.23,289.00 A227.5,227.5 0 0 0 91.96,207.94 L121.57,219.37 A195.8,195.8 0 0 1 495.49,289.01 Z" fill="#0443f5" stroke="#0443f5" stroke-width="22" stroke-linejoin="round"/><path d="M84.04,228.45 A227.5,227.5 0 0 0 72.77,289.00 L104.51,289.01 A195.8,195.8 0 0 1 113.66,239.88 Z" fill="#00d1c1" stroke="#00d1c1" stroke-width="22" stroke-linejoin="round"/></svg>
<span class="t" style="left:2236.07px;top:2291.00px;font-size:67px;line-height:67px;color:#030717;font-weight:700;transform:scaleX(1.0859106529209621);transform-origin:0 0;">34</span>
<span class="t" style="left:2176.20px;top:2373.00px;font-size:33.6px;line-height:33.6px;color:#64748b;letter-spacing:0.600px;-webkit-text-stroke:0.3px #64748b;">Un-Occupied</span></div></body></html>
